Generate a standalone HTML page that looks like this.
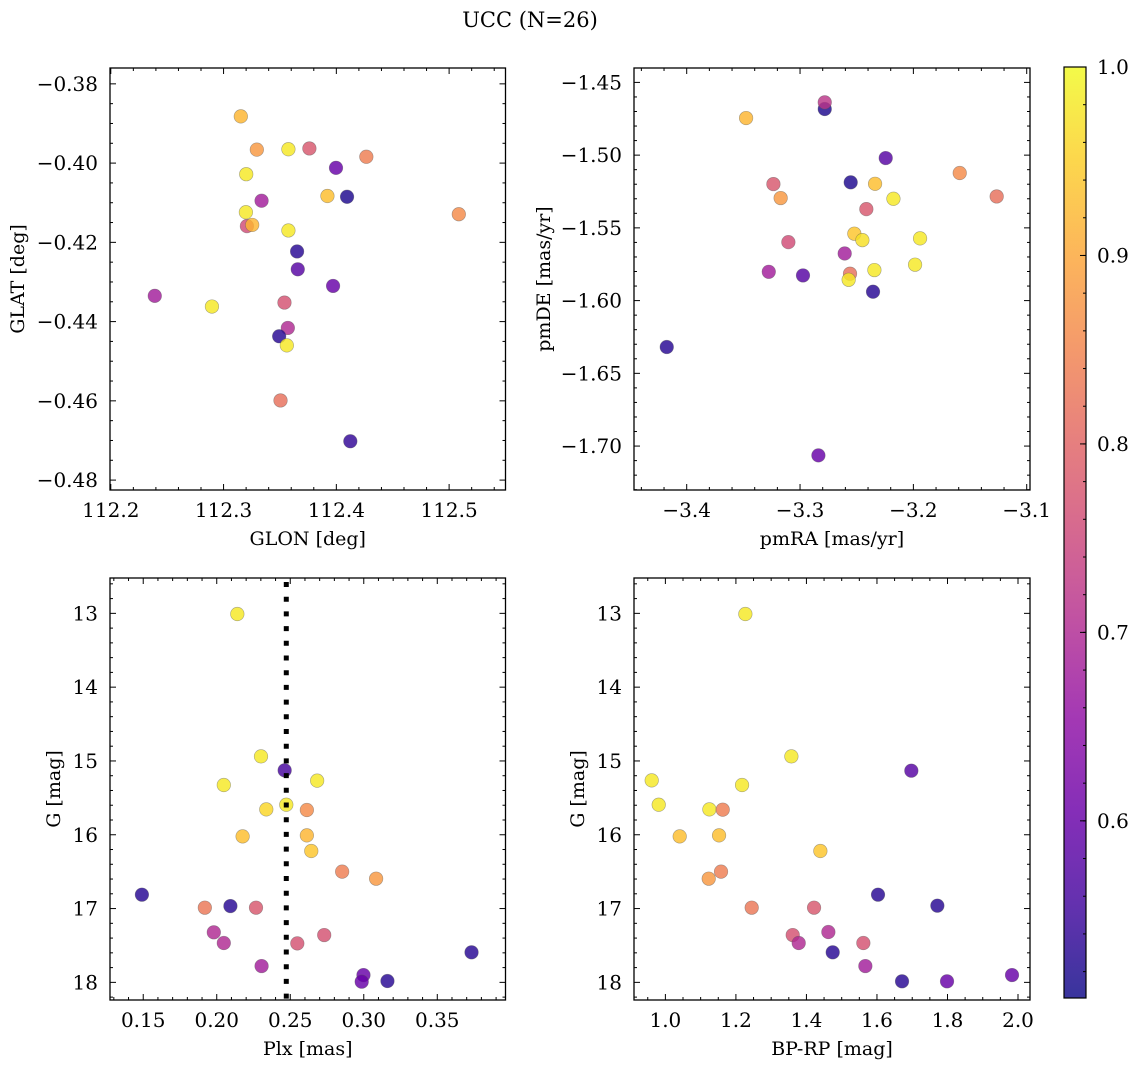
<!DOCTYPE html>
<html><head><meta charset="utf-8"><style>
html,body{margin:0;padding:0;background:#fff;}
svg{display:block;font-family:"DejaVu Serif","Liberation Serif",serif;}
</style></head><body>
<svg id="fig" width="1136" height="1067" viewBox="0 0 1136 1067" xmlns="http://www.w3.org/2000/svg">
<defs>
<linearGradient id="cbgrad" x1="0" y1="1" x2="0" y2="0"></linearGradient>
</defs>
<text x="530" y="27" font-size="21" text-anchor="middle">UCC (N=26)</text>
</svg>
<script>
// ---- data ----
const glon = [112.3153,112.3295,112.3575,112.3761,112.4266,112.3997,112.3201,112.3921,112.4095,112.5086,112.3337,112.3198,112.3207,112.3254,112.3575,112.3652,112.3658,112.2390,112.3971,112.3540,112.2897,112.3570,112.3493,112.3561,112.3505,112.4124];
const glat = [-0.3882,-0.3966,-0.3965,-0.3963,-0.3984,-0.4012,-0.4028,-0.4083,-0.4085,-0.4129,-0.4095,-0.4124,-0.4159,-0.4156,-0.4170,-0.4223,-0.4268,-0.4335,-0.4310,-0.4352,-0.4362,-0.4416,-0.4437,-0.4460,-0.4599,-0.4702];
const probP1 = [0.92,0.88,0.98,0.78,0.84,0.60,0.98,0.93,0.52,0.86,0.68,0.98,0.76,0.92,0.98,0.53,0.58,0.68,0.60,0.77,0.98,0.70,0.53,0.98,0.82,0.54];

const pmra = [-3.2782,-3.2782,-3.3476,-3.2244,-3.1591,-3.1265,-3.3235,-3.2553,-3.2338,-3.3171,-3.2176,-3.2415,-3.2521,-3.2450,-3.1941,-3.3103,-3.2606,-3.3276,-3.2974,-3.2559,-3.2571,-3.2344,-3.1985,-3.2356,-3.4176,-3.2838];
const pmde = [-1.4683,-1.4637,-1.4745,-1.5020,-1.5123,-1.5284,-1.5199,-1.5187,-1.5197,-1.5295,-1.5300,-1.5371,-1.5540,-1.5584,-1.5572,-1.5598,-1.5676,-1.5802,-1.5827,-1.5815,-1.5857,-1.5790,-1.5753,-1.5939,-1.6319,-1.7064];
const probP2 = [0.52,0.72,0.92,0.58,0.86,0.82,0.78,0.52,0.93,0.88,0.98,0.78,0.94,0.97,0.98,0.76,0.68,0.68,0.58,0.82,0.98,0.98,0.98,0.53,0.53,0.60];

const plx = [0.2140,0.2301,0.2462,0.2048,0.2683,0.2473,0.2337,0.2613,0.2176,0.2613,0.2643,0.2853,0.3084,0.1491,0.1919,0.2093,0.2267,0.1980,0.2048,0.2548,0.2731,0.3733,0.2305,0.2998,0.2986,0.3161];
const gP3 = [13.009,14.938,15.127,15.326,15.267,15.593,15.656,15.665,16.022,16.008,16.220,16.500,16.595,16.812,16.988,16.966,16.988,17.322,17.467,17.472,17.359,17.593,17.779,17.901,17.991,17.982];
const probP3 = [0.98,0.98,0.56,0.98,0.98,0.98,0.96,0.86,0.93,0.92,0.94,0.84,0.88,0.53,0.83,0.53,0.78,0.70,0.70,0.77,0.77,0.53,0.68,0.60,0.60,0.53];
const plxRef = [0.2473];

const bprp = [1.2268,1.3573,1.6975,0.9612,0.9811,1.2174,1.1248,1.1626,1.0406,1.1522,1.4395,1.1578,1.1229,1.6030,1.7713,1.2448,1.4216,1.3611,1.3781,1.4622,1.4745,1.5614,1.5671,1.6711,1.7987,1.9830];
const gP4 = [13.009,14.938,15.132,15.263,15.593,15.326,15.656,15.660,16.022,16.008,16.220,16.500,16.595,16.812,16.961,16.988,16.988,17.359,17.467,17.318,17.593,17.467,17.779,17.986,17.986,17.901];
const probP4 = [0.98,0.98,0.58,0.98,0.98,0.98,0.98,0.84,0.93,0.93,0.94,0.84,0.88,0.53,0.53,0.83,0.78,0.77,0.70,0.70,0.53,0.77,0.68,0.53,0.60,0.60];

const cbTicks = [0.6,0.7,0.8,0.9,1.0];
const cbRange = [0.506,1.0];

const NS="http://www.w3.org/2000/svg";
const svg=document.getElementById('fig');
function mk(tag,attrs,parent){const e=document.createElementNS(NS,tag);for(const k in attrs)e.setAttribute(k,attrs[k]);(parent||svg).appendChild(e);return e;}

const plasma=[[0,13,8,135],[0.1,65,4,157],[0.2,106,0,168],[0.3,143,13,164],[0.4,177,42,144],[0.5,204,71,120],[0.6,225,100,98],[0.7,242,132,75],[0.8,252,166,54],[0.9,252,206,37],[1.0,240,249,33]];
function cmap(t){t=Math.max(0,Math.min(1,t));for(let i=1;i<plasma.length;i++){if(t<=plasma[i][0]){const a=plasma[i-1],b=plasma[i];const f=(t-a[0])/(b[0]-a[0]);return 'rgb('+[1,2,3].map(j=>Math.round(a[j]+(b[j]-a[j])*f)).join(',')+')';}}return 'rgb(240,249,33)';}
function pcol(v){return cmap((v-cbRange[0])/(cbRange[1]-cbRange[0]));}

function fmt(v,d){const s=Math.abs(v).toFixed(d);return (v<-1e-12?'\u2212':'')+s;}

function panel(o){
  const g=mk('g',{});
  
  
  const sx=v=>o.L+(v-o.xd[0])/(o.xd[1]-o.xd[0])*(o.R-o.L);
  const sy=v=>o.B-(v-o.yd[0])/(o.yd[1]-o.yd[0])*(o.B-o.T);
  const pg=mk('g',{},g);
  
  
  if(o.vline){
    const l=mk('line',{x1:sx(o.vline[0]),x2:sx(o.vline[0]),y1:o.T+4,y2:o.B,stroke:'#000','stroke-width':5,'stroke-dasharray':'5 9.7'},g);
    
    
  }
  for(let i=0;i<o.x.length;i++){
    const c=mk('circle',{cx:sx(o.x[i]),cy:sy(o.y[i]),r:6.8,fill:pcol(o.c[i]),'fill-opacity':0.82,stroke:'#555','stroke-opacity':0.5,'stroke-width':0.6},pg);
    
    
  }
  const tg=mk('g',{stroke:'#000','stroke-width':1},g);
  
  
  const lg=mk('g',{'font-size':20},g);
  
  
  const eps=1e-9;
  const xs=Math.ceil((o.xd[0]-eps)/o.xmin), xe=Math.floor((o.xd[1]+eps)/o.xmin);
  for(let k=xs;k<=xe;k++){
    const v=k*o.xmin; const px=sx(v);
    const major=Math.abs(v/o.xmaj-Math.round(v/o.xmaj))<1e-6;
    const len=major?6:3;
    mk('line',{x1:px,x2:px,y1:o.B,y2:o.B-len},tg);
    mk('line',{x1:px,x2:px,y1:o.T,y2:o.T+len},tg);
    if(major){const t=mk('text',{x:px,y:o.B+27,'text-anchor':'middle'},lg);t.textContent=fmt(v,o.xdec);}
  }
  const y0=Math.min(o.yd[0],o.yd[1]),y1=Math.max(o.yd[0],o.yd[1]);
  const ys=Math.ceil((y0-eps)/o.ymin), ye=Math.floor((y1+eps)/o.ymin);
  for(let k=ys;k<=ye;k++){
    const v=k*o.ymin; const py=sy(v);
    const major=Math.abs(v/o.ymaj-Math.round(v/o.ymaj))<1e-6;
    const len=major?6:3;
    mk('line',{x1:o.L,x2:o.L+len,y1:py,y2:py},tg);
    mk('line',{x1:o.R,x2:o.R-len,y1:py,y2:py},tg);
    if(major){const t=mk('text',{x:o.L-12,y:py+7,'text-anchor':'end'},lg);t.textContent=fmt(v,o.ydec);}
  }
  const fr=mk('rect',{x:o.L,y:o.T,width:o.R-o.L,height:o.B-o.T,fill:'none',stroke:'#000','stroke-width':1.3},g);
  
  
  const xl=mk('text',{x:(o.L+o.R)/2,y:o.B+55,'text-anchor':'middle','font-size':19},g);
  xl.textContent=o.xlabel;
  
  
  const yx=o.ylx, yc=(o.T+o.B)/2;
  const yl=mk('text',{x:yx,y:yc,'text-anchor':'middle','font-size':19,transform:'rotate(-90 '+yx+' '+yc+')'},g);
  yl.textContent=o.ylabel;
  
  
}

panel({name:'panel-glon-glat',L:110,R:505.5,T:68,B:490,xd:[112.1993,112.55],yd:[-0.4825,-0.376],x:glon,y:glat,c:probP1,xmaj:0.1,xmin:0.02,ymaj:0.02,ymin:0.005,xdec:1,ydec:2,xlabel:'GLON [deg]',ylabel:'GLAT [deg]',ylx:24});
panel({name:'panel-pmra-pmde',L:634,R:1030,T:68,B:490,xd:[-3.4465,-3.0971],yd:[-1.7302,-1.4401],x:pmra,y:pmde,c:probP2,xmaj:0.1,xmin:0.02,ymaj:0.05,ymin:0.01,xdec:1,ydec:2,xlabel:'pmRA [mas/yr]',ylabel:'pmDE [mas/yr]',ylx:550});
panel({name:'panel-plx-g',L:110,R:505.5,T:578,B:1000,xd:[0.1274,0.3964],yd:[18.239,12.521],x:plx,y:gP3,c:probP3,xmaj:0.05,xmin:0.01,ymaj:1,ymin:0.2,xdec:2,ydec:0,xlabel:'Plx [mas]',ylabel:'G [mag]',ylx:60,vline:plxRef});
panel({name:'panel-bprp-g',L:634,R:1030,T:578,B:1000,xd:[0.911,2.034],yd:[18.239,12.521],x:bprp,y:gP4,c:probP4,xmaj:0.2,xmin:0.05,ymaj:1,ymin:0.2,xdec:1,ydec:0,xlabel:'BP-RP [mag]',ylabel:'G [mag]',ylx:584});

(function(){
  const grad=document.getElementById('cbgrad');
  for(let i=0;i<=20;i++){const t=i/20;mk('stop',{offset:t,'stop-color':cmap(t),'stop-opacity':0.82},grad);}
  const L=1064,R=1086,T=67,B=998;
  const g=mk('g',{});
  
  
  mk('rect',{x:L,y:T,width:R-L,height:B-T,fill:'url(#cbgrad)',stroke:'#000','stroke-width':1.2},g);
  const sy=v=>B-(v-cbRange[0])/(cbRange[1]-cbRange[0])*(B-T);
  for(let k=Math.ceil(cbRange[0]/0.02);k<=Math.floor(cbRange[1]/0.02+1e-9);k++){
    const v=k*0.02;mk('line',{x1:R,x2:R-3,y1:sy(v),y2:sy(v),stroke:'#000','stroke-width':1},g);
  }
  for(const v of cbTicks){
    const py=sy(v);
    mk('line',{x1:R,x2:R-6,y1:py,y2:py,stroke:'#000','stroke-width':1},g);
    const t=mk('text',{x:R+11,y:py+7,'font-size':20},g);t.textContent=v.toFixed(1);
    
    
  }
})();
</script>
</body></html>
